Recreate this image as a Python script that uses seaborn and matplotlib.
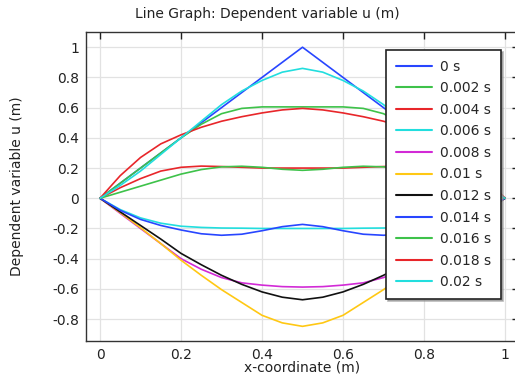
import pandas as pd
import matplotlib
matplotlib.use("Agg")
import matplotlib.pyplot as plt
import seaborn as sns

# --- data (string displacement at several times) ---
x_coord = [0.0, 0.05, 0.1, 0.15, 0.2, 0.25, 0.3, 0.35, 0.4, 0.45, 0.5,
           0.55, 0.6, 0.65, 0.7, 0.75, 0.8, 0.85, 0.9, 0.95, 1.0]

times = ["0 s", "0.002 s", "0.004 s", "0.006 s", "0.008 s", "0.01 s",
         "0.012 s", "0.014 s", "0.016 s", "0.018 s", "0.02 s"]

u_0000 = [0, .1, .2, .3, .4, .5, .6, .7, .8, .9, 1.0,
          .9, .8, .7, .6, .5, .4, .3, .2, .1, 0]
u_0002 = [0, .10, .20, .30, .40, .49, .56, .595, .605, .605, .605,
          .605, .605, .595, .56, .49, .40, .30, .20, .10, 0]
u_0004 = [0, .07, .13, .18, .205, .213, .21, .205, .2, .2, .2,
          .2, .2, .205, .21, .213, .205, .18, .13, .07, 0]
u_0006 = [0, -.075, -.13, -.165, -.185, -.193, -.197, -.198, -.2, -.2, -.2,
          -.2, -.2, -.198, -.197, -.193, -.185, -.165, -.13, -.075, 0]
u_0008 = [0, -.1, -.2, -.3, -.4, -.47, -.525, -.56, -.575, -.585, -.588,
          -.585, -.575, -.56, -.525, -.47, -.4, -.3, -.2, -.1, 0]
u_0010 = [0, -.095, -.195, -.3, -.41, -.51, -.605, -.69, -.775, -.825, -.848,
          -.825, -.775, -.69, -.605, -.51, -.41, -.3, -.195, -.095, 0]
u_0012 = [0, -.09, -.18, -.27, -.365, -.44, -.51, -.57, -.62, -.655, -.672,
          -.655, -.62, -.57, -.51, -.44, -.365, -.27, -.18, -.09, 0]
u_0014 = [0, -.08, -.14, -.18, -.21, -.235, -.245, -.238, -.215, -.188, -.173,
          -.188, -.215, -.238, -.245, -.235, -.21, -.18, -.14, -.08, 0]
u_0016 = [0, .04, .08, .12, .16, .19, .208, .212, .205, .192, .185,
          .192, .205, .212, .208, .19, .16, .12, .08, .04, 0]
u_0018 = [0, .15, .27, .36, .42, .47, .51, .54, .565, .585, .595,
          .585, .565, .54, .51, .47, .42, .36, .27, .15, 0]
u_0020 = [0, .085, .18, .29, .40, .51, .62, .71, .78, .835, .86,
          .835, .78, .71, .62, .51, .40, .29, .18, .085, 0]

all_u = [u_0000, u_0002, u_0004, u_0006, u_0008, u_0010,
         u_0012, u_0014, u_0016, u_0018, u_0020]

line_colors = ["#2846ff", "#3ec24a", "#e8262a", "#22dede", "#d22ad6", "#ffc814",
               "#111111", "#2846ff", "#3ec24a", "#e8262a", "#22dede"]

rows = []
for t, u in zip(times, all_u):
    for x, v in zip(x_coord, u):
        rows.append({"x": x, "u": v, "time": t})
df = pd.DataFrame(rows)

sns.set_style("white")
plt.rcParams["font.family"] = ["DejaVu Sans"]

fig = plt.figure(figsize=(5.15, 3.78), dpi=100)
ax = fig.add_axes([0.167, 0.0979, 0.8408, 0.8175])

sns.lineplot(data=df, x="x", y="u", hue="time", hue_order=times,
             palette=line_colors, sort=False, estimator=None,
             linewidth=1.2, ax=ax)

ax.set_xlim(-0.0346, 1.0346)
ax.set_ylim(-0.945, 1.101)
ax.set_xticks([0, 0.2, 0.4, 0.6, 0.8, 1])
ax.set_xticklabels(["0", "0.2", "0.4", "0.6", "0.8", "1"])
ax.set_yticks([-0.8, -0.6, -0.4, -0.2, 0, 0.2, 0.4, 0.6, 0.8, 1])
ax.set_yticklabels(["-0.8", "-0.6", "-0.4", "-0.2", "0", "0.2", "0.4", "0.6", "0.8", "1"])
ax.grid(True, color="#e2e2e2", linewidth=0.9)
ax.set_axisbelow(True)
ax.tick_params(direction="in", length=5, width=1, top=True, right=True,
               labelsize=10, colors="#222222", pad=5)
for s in ax.spines.values():
    s.set_color("#333333")
    s.set_linewidth(1.0)

fig.text(267 / 515, 1 - 14 / 378, "Line Graph: Dependent variable u (m)",
         fontsize=10, color="#222222", ha="center", va="center")
ax.set_xlabel("x-coordinate (m)", fontsize=10, color="#222222", labelpad=-1)
ax.set_ylabel("Dependent variable u (m)", fontsize=10, color="#222222")
ax.yaxis.set_label_coords(-0.143, 0.5)

leg = ax.legend(loc="upper left", bbox_to_anchor=(0.692, 0.943), fontsize=10,
                frameon=True, fancybox=False, handlelength=2.6, handletextpad=0.58,
                labelspacing=0.545, borderpad=0.72, borderaxespad=0,
                shadow={"ox": 1.5, "oy": -1.5, "color": "0.55", "alpha": 0.6})
leg.get_frame().set_edgecolor("#222222")
leg.get_frame().set_linewidth(1.2)
leg.get_frame().set_alpha(1)
for h in leg.get_lines():
    h.set_linewidth(1.5)

fig.savefig("out.png", dpi=100)
